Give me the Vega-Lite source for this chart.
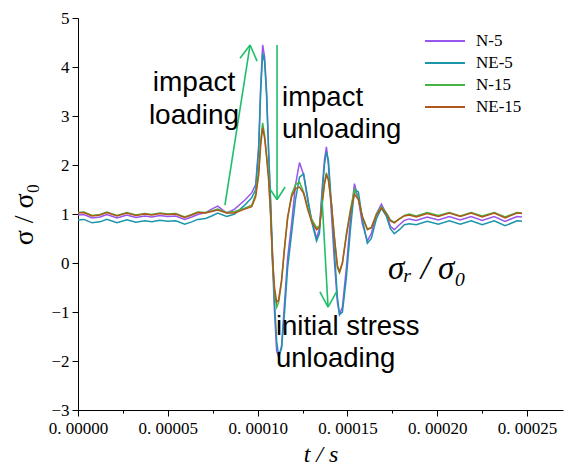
{
  "$schema": "https://vega.github.io/schema/vega-lite/v6.json",
  "width": 485,
  "height": 392,
  "autosize": {"type": "none"},
  "padding": {"left": 78, "top": 18, "right": 3, "bottom": 64},
  "background": "white",
  "config": {
    "view": {"stroke": null},
    "font": "Liberation Serif",
    "axis": {"labelFont": "Times New Roman, Liberation Serif, serif", "titleFont": "Liberation Serif"},
    "legend": {"labelFont": "Liberation Serif"}
  },
  "datasets": {
    "curves": [
      {"t": 0, "N-5": 0.98, "NE-5": 0.88, "N-15": 1.03, "NE-15": 1.02},
      {"t": 0.0000033, "N-5": 0.99, "NE-5": 0.89, "N-15": 1.04, "NE-15": 1.03},
      {"t": 0.0000078, "N-5": 0.92, "NE-5": 0.82, "N-15": 0.97, "NE-15": 0.96},
      {"t": 0.0000122, "N-5": 0.94, "NE-5": 0.84, "N-15": 0.99, "NE-15": 0.98},
      {"t": 0.0000161, "N-5": 0.99, "NE-5": 0.89, "N-15": 1.04, "NE-15": 1.03},
      {"t": 0.0000217, "N-5": 0.92, "NE-5": 0.82, "N-15": 0.97, "NE-15": 0.96},
      {"t": 0.0000272, "N-5": 0.98, "NE-5": 0.88, "N-15": 1.03, "NE-15": 1.02},
      {"t": 0.0000322, "N-5": 0.93, "NE-5": 0.83, "N-15": 0.98, "NE-15": 0.97},
      {"t": 0.0000372, "N-5": 0.96, "NE-5": 0.86, "N-15": 1.01, "NE-15": 1.0},
      {"t": 0.0000411, "N-5": 0.94, "NE-5": 0.84, "N-15": 0.99, "NE-15": 0.98},
      {"t": 0.0000456, "N-5": 0.97, "NE-5": 0.87, "N-15": 1.02, "NE-15": 1.01},
      {"t": 0.00005, "N-5": 0.95, "NE-5": 0.85, "N-15": 1.0, "NE-15": 0.99},
      {"t": 0.0000544, "N-5": 0.96, "NE-5": 0.86, "N-15": 1.01, "NE-15": 1.0},
      {"t": 0.0000594, "N-5": 0.89, "NE-5": 0.79, "N-15": 0.94, "NE-15": 0.93},
      {"t": 0.0000633, "N-5": 0.94, "NE-5": 0.84, "N-15": 0.99, "NE-15": 0.98},
      {"t": 0.0000667, "N-5": 0.99, "NE-5": 0.89, "N-15": 1.04, "NE-15": 1.03},
      {"t": 0.0000711, "N-5": 1.03, "NE-5": 0.91, "N-15": 1.03, "NE-15": 1.02},
      {"t": 0.0000744, "N-5": 1.1, "NE-5": 0.96, "N-15": 1.06, "NE-15": 1.05},
      {"t": 0.0000778, "N-5": 1.16, "NE-5": 1.02, "N-15": 1.1, "NE-15": 1.08},
      {"t": 0.0000828, "N-5": 1.02, "NE-5": 0.95, "N-15": 1.03, "NE-15": 1.02},
      {"t": 0.0000872, "N-5": 1.1, "NE-5": 1.0, "N-15": 1.05, "NE-15": 1.02},
      {"t": 0.0000928, "N-5": 1.28, "NE-5": 1.18, "N-15": 1.12, "NE-15": 1.1},
      {"t": 0.0000967, "N-5": 1.43, "NE-5": 1.33, "N-15": 1.18, "NE-15": 1.15},
      {"t": 0.0000989, "N-5": 1.6, "NE-5": 1.5, "N-15": 1.4, "NE-15": 1.35},
      {"t": 0.0001006, "N-5": 2.4, "NE-5": 2.3, "N-15": 1.9, "NE-15": 1.8},
      {"t": 0.0001017, "N-5": 3.6, "NE-5": 3.5, "N-15": 2.5, "NE-15": 2.4},
      {"t": 0.0001028, "N-5": 4.45, "NE-5": 4.28, "N-15": 2.86, "NE-15": 2.76},
      {"t": 0.0001039, "N-5": 4.2, "NE-5": 4.1, "N-15": 2.6, "NE-15": 2.55},
      {"t": 0.000105, "N-5": 3.5, "NE-5": 3.4, "N-15": 2.2, "NE-15": 2.15},
      {"t": 0.0001061, "N-5": 2.3, "NE-5": 2.3, "N-15": 1.8, "NE-15": 1.7},
      {"t": 0.0001072, "N-5": 1.2, "NE-5": 1.3, "N-15": 1.0, "NE-15": 1.0},
      {"t": 0.0001083, "N-5": 0.0, "NE-5": 0.2, "N-15": 0.0, "NE-15": 0.1},
      {"t": 0.0001094, "N-5": -1.0, "NE-5": -0.8, "N-15": -0.6, "NE-15": -0.5},
      {"t": 0.0001106, "N-5": -1.8, "NE-5": -1.6, "N-15": -0.9, "NE-15": -0.8},
      {"t": 0.0001117, "N-5": -1.92, "NE-5": -1.9, "N-15": -0.8, "NE-15": -0.75},
      {"t": 0.0001133, "N-5": -1.7, "NE-5": -1.75, "N-15": -0.4, "NE-15": -0.35},
      {"t": 0.000115, "N-5": -0.8, "NE-5": -1.0, "N-15": 0.3, "NE-15": 0.33},
      {"t": 0.0001167, "N-5": 0.1, "NE-5": -0.1, "N-15": 0.9, "NE-15": 0.94},
      {"t": 0.0001189, "N-5": 0.8, "NE-5": 0.6, "N-15": 1.4, "NE-15": 1.35},
      {"t": 0.0001211, "N-5": 1.6, "NE-5": 1.3, "N-15": 1.6, "NE-15": 1.52},
      {"t": 0.0001233, "N-5": 2.05, "NE-5": 1.75, "N-15": 1.65, "NE-15": 1.55},
      {"t": 0.0001256, "N-5": 1.8, "NE-5": 1.82, "N-15": 1.45, "NE-15": 1.42},
      {"t": 0.0001278, "N-5": 1.3, "NE-5": 1.35, "N-15": 1.15, "NE-15": 1.1},
      {"t": 0.00013, "N-5": 0.9, "NE-5": 0.85, "N-15": 0.9, "NE-15": 0.85},
      {"t": 0.0001328, "N-5": 0.5, "NE-5": 0.45, "N-15": 0.72, "NE-15": 0.68},
      {"t": 0.0001344, "N-5": 0.7, "NE-5": 0.6, "N-15": 0.75, "NE-15": 0.72},
      {"t": 0.0001361, "N-5": 1.6, "NE-5": 1.5, "N-15": 1.3, "NE-15": 1.25},
      {"t": 0.0001372, "N-5": 2.1, "NE-5": 2.0, "N-15": 1.65, "NE-15": 1.6},
      {"t": 0.0001383, "N-5": 2.37, "NE-5": 2.27, "N-15": 1.84, "NE-15": 1.8},
      {"t": 0.0001394, "N-5": 2.0, "NE-5": 2.1, "N-15": 1.7, "NE-15": 1.7},
      {"t": 0.0001411, "N-5": 1.0, "NE-5": 1.2, "N-15": 1.2, "NE-15": 1.2},
      {"t": 0.0001428, "N-5": 0.0, "NE-5": 0.2, "N-15": 0.5, "NE-15": 0.5},
      {"t": 0.0001444, "N-5": -0.8, "NE-5": -0.7, "N-15": -0.1, "NE-15": -0.05},
      {"t": 0.0001456, "N-5": -1.05, "NE-5": -1.05, "N-15": -0.2, "NE-15": -0.18},
      {"t": 0.0001472, "N-5": -0.9, "NE-5": -1.0, "N-15": 0.0, "NE-15": 0.0},
      {"t": 0.0001494, "N-5": -0.1, "NE-5": -0.3, "N-15": 0.6, "NE-15": 0.55},
      {"t": 0.0001517, "N-5": 0.9, "NE-5": 0.7, "N-15": 1.1, "NE-15": 1.05},
      {"t": 0.0001539, "N-5": 1.62, "NE-5": 1.5, "N-15": 1.5, "NE-15": 1.4},
      {"t": 0.0001561, "N-5": 1.3, "NE-5": 1.45, "N-15": 1.3, "NE-15": 1.3},
      {"t": 0.0001583, "N-5": 0.8, "NE-5": 0.9, "N-15": 0.95, "NE-15": 0.95},
      {"t": 0.0001611, "N-5": 0.45, "NE-5": 0.4, "N-15": 0.7, "NE-15": 0.68},
      {"t": 0.0001633, "N-5": 0.6, "NE-5": 0.5, "N-15": 0.72, "NE-15": 0.72},
      {"t": 0.0001661, "N-5": 1.0, "NE-5": 0.9, "N-15": 1.0, "NE-15": 0.98},
      {"t": 0.0001689, "N-5": 1.2, "NE-5": 1.12, "N-15": 1.15, "NE-15": 1.12},
      {"t": 0.0001717, "N-5": 1.0, "NE-5": 0.95, "N-15": 1.02, "NE-15": 1.0},
      {"t": 0.0001739, "N-5": 0.75, "NE-5": 0.7, "N-15": 0.88, "NE-15": 0.86},
      {"t": 0.0001761, "N-5": 0.68, "NE-5": 0.6, "N-15": 0.83, "NE-15": 0.82},
      {"t": 0.0001789, "N-5": 0.78, "NE-5": 0.68, "N-15": 0.9, "NE-15": 0.9},
      {"t": 0.0001817, "N-5": 0.87, "NE-5": 0.78, "N-15": 0.97, "NE-15": 0.96},
      {"t": 0.0001844, "N-5": 0.9, "NE-5": 0.8, "N-15": 1.0, "NE-15": 0.98},
      {"t": 0.0001883, "N-5": 0.87, "NE-5": 0.78, "N-15": 0.96, "NE-15": 0.94},
      {"t": 0.0001944, "N-5": 0.94, "NE-5": 0.85, "N-15": 1.03, "NE-15": 1.01},
      {"t": 0.0002006, "N-5": 0.88, "NE-5": 0.79, "N-15": 0.97, "NE-15": 0.95},
      {"t": 0.0002067, "N-5": 0.95, "NE-5": 0.86, "N-15": 1.03, "NE-15": 1.02},
      {"t": 0.0002128, "N-5": 0.88, "NE-5": 0.79, "N-15": 0.96, "NE-15": 0.95},
      {"t": 0.0002189, "N-5": 0.95, "NE-5": 0.86, "N-15": 1.03, "NE-15": 1.02},
      {"t": 0.000225, "N-5": 0.87, "NE-5": 0.78, "N-15": 0.96, "NE-15": 0.94},
      {"t": 0.0002317, "N-5": 0.95, "NE-5": 0.86, "N-15": 1.03, "NE-15": 1.02},
      {"t": 0.0002378, "N-5": 0.85, "NE-5": 0.76, "N-15": 0.94, "NE-15": 0.92},
      {"t": 0.0002444, "N-5": 0.95, "NE-5": 0.86, "N-15": 1.03, "NE-15": 1.02},
      {"t": 0.0002472, "N-5": 0.94, "NE-5": 0.85, "N-15": 1.02, "NE-15": 1.01}
    ],
    "arrows": [
      {"t": 0.0000818, "y": 1.18, "t2": 0.0000958, "y2": 4.45},
      {"t": 0.0000902, "y": 4.18, "t2": 0.0000958, "y2": 4.45},
      {"t": 0.0000997, "y": 4.12, "t2": 0.0000958, "y2": 4.45},
      {"t": 0.0001108, "y": 4.45, "t2": 0.0001108, "y2": 1.29},
      {"t": 0.0001069, "y": 1.51, "t2": 0.0001108, "y2": 1.29},
      {"t": 0.0001153, "y": 1.55, "t2": 0.0001108, "y2": 1.29},
      {"t": 0.0001359, "y": 1.29, "t2": 0.0001392, "y2": -0.9},
      {"t": 0.0001347, "y": -0.59, "t2": 0.0001392, "y2": -0.9},
      {"t": 0.0001442, "y": -0.57, "t2": 0.0001392, "y2": -0.9}
    ],
    "notesCenter": [
      {"t": 0.0000646, "y": 3.68, "label": ["impact", "loading"]}
    ],
    "notesLeft": [
      {"t": 0.0001136, "y": 3.37, "label": ["impact", "unloading"]},
      {"t": 0.0001102, "y": -1.3, "label": ["initial stress", "unloading"]}
    ],
    "notesSigma": [
      {"t": 0.0001726, "y": -0.12, "label": "σᵣ / σ₀"}
    ]
  },
  "layer": [
    {
      "data": {"name": "curves"},
      "transform": [{"fold": ["N-5", "NE-5", "N-15", "NE-15"], "as": ["series", "value"]}],
      "mark": {"type": "line", "strokeWidth": 1.5},
      "encoding": {
        "x": {
          "field": "t", "type": "quantitative",
          "scale": {"domain": [0, 0.00027], "nice": false, "zero": false},
          "axis": {
            "values": [0, 0.000025, 0.00005, 0.000075, 0.0001, 0.000125, 0.00015, 0.000175, 0.0002, 0.000225, 0.00025],
            "labelExpr": "round(datum.value*1e6) % 50 == 0 ? replace(format(datum.value, '.5f'), '.', '. ') : ''",
            "tickSize": {"condition": {"test": "round(datum.value*1e6) % 50 == 0", "value": 6}, "value": 3},
            "labelFont": "Times New Roman, Liberation Serif, serif", "labelFontSize": 17, "labelColor": "black",
            "labelFlush": false, "labelOverlap": false, "labelPadding": 4,
            "tickColor": "black", "domainColor": "black", "grid": false,
            "title": "t / s", "titleFont": "Liberation Serif", "titleFontStyle": "italic",
            "titleFontWeight": "normal", "titleFontSize": 24, "titleColor": "black", "titlePadding": 6
          }
        },
        "y": {
          "field": "value", "type": "quantitative",
          "scale": {"domain": [-3, 5], "nice": false, "zero": false},
          "axis": {
            "values": [-3, -2.5, -2, -1.5, -1, -0.5, 0, 0.5, 1, 1.5, 2, 2.5, 3, 3.5, 4, 4.5, 5],
            "labelExpr": "datum.value % 1 == 0 ? format(datum.value, 'd') : ''",
            "tickSize": {"condition": {"test": "datum.value % 1 == 0", "value": 6}, "value": 3},
            "labelFont": "Times New Roman, Liberation Serif, serif", "labelFontSize": 17, "labelColor": "black",
            "labelFlush": false, "labelOverlap": false, "labelPadding": 3,
            "tickColor": "black", "domainColor": "black", "grid": false,
            "title": "σ / σ₀", "titleFont": "Liberation Serif",
            "titleFontWeight": "normal", "titleFontSize": 28, "titleColor": "black", "titlePadding": 12
          }
        },
        "color": {
          "field": "series", "type": "nominal",
          "scale": {"domain": ["N-5", "NE-5", "N-15", "NE-15"], "range": ["#9a55ee", "#1b95a8", "#45b545", "#b0581a"]},
          "legend": {
            "title": null, "orient": "none", "legendX": 346, "legendY": 15,
            "symbolType": "stroke", "symbolSize": 1600, "symbolStrokeWidth": 2,
            "clipHeight": 16, "rowPadding": 5, "labelOffset": 10,
            "labelFont": "Liberation Serif", "labelFontSize": 17, "labelColor": "black"
          }
        }
      }
    },
    {
      "data": {"name": "arrows"},
      "mark": {"type": "rule", "color": "#1fbf6a", "strokeWidth": 1.6},
      "encoding": {
        "x": {"field": "t", "type": "quantitative"},
        "y": {"field": "y", "type": "quantitative"},
        "x2": {"field": "t2"},
        "y2": {"field": "y2"}
      }
    },
    {
      "data": {"name": "notesCenter"},
      "mark": {"type": "text", "font": "Liberation Sans", "fontSize": 28, "align": "center", "baseline": "middle", "lineHeight": 33, "color": "black"},
      "encoding": {
        "x": {"field": "t", "type": "quantitative"},
        "y": {"field": "y", "type": "quantitative"},
        "text": {"field": "label"}
      }
    },
    {
      "data": {"name": "notesLeft"},
      "mark": {"type": "text", "font": "Liberation Sans", "fontSize": 27.5, "align": "left", "baseline": "middle", "lineHeight": 32, "color": "black"},
      "encoding": {
        "x": {"field": "t", "type": "quantitative"},
        "y": {"field": "y", "type": "quantitative"},
        "text": {"field": "label"}
      }
    },
    {
      "data": {"name": "notesSigma"},
      "mark": {"type": "text", "font": "Liberation Serif", "fontStyle": "italic", "fontSize": 33, "align": "left", "baseline": "middle", "color": "black"},
      "encoding": {
        "x": {"field": "t", "type": "quantitative"},
        "y": {"field": "y", "type": "quantitative"},
        "text": {"field": "label"}
      }
    }
  ]
}
